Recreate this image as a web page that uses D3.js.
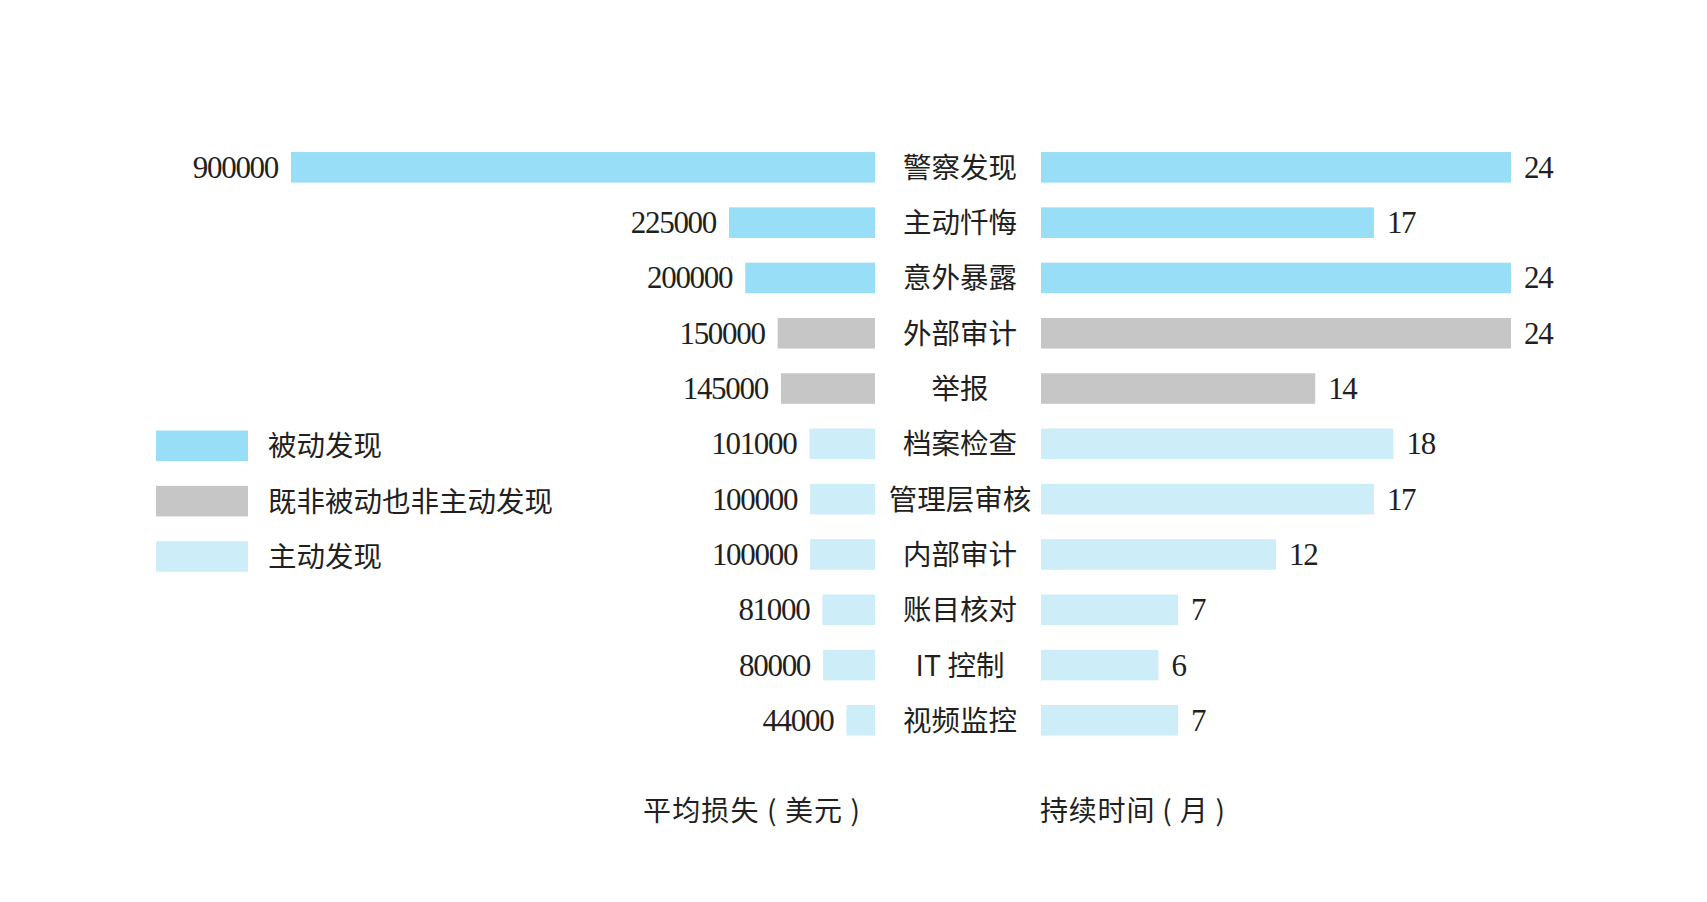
<!DOCTYPE html>
<html><head><meta charset="utf-8">
<script src="https://cdn.jsdelivr.net/npm/d3@7"></script>
<style>html,body{margin:0;padding:0;background:#fff;}</style>
</head><body>
<svg id="chart" width="1707" height="902"></svg>
<script>
const categories = ["警察发现","主动忏悔","意外暴露","外部审计","举报","档案检查","管理层审核","内部审计","账目核对","IT 控制","视频监控"];
const lossValues = [900000,225000,200000,150000,145000,101000,100000,100000,81000,80000,44000];
const durationValues = [24,17,24,24,14,18,17,12,7,6,7];
const groups = ["passive","passive","passive","neither","neither","active","active","active","active","active","active"];
const legendKeys = ["passive","neither","active"];
const legendLabels = ["被动发现","既非被动也非主动发现","主动发现"];
const lossTitle = "平均损失 ( 美元 )";
const durationTitle = "持续时间 ( 月 )";

const colors = {passive:"#99DEF7", neither:"#C6C6C6", active:"#CDEEF9"};
const cjk = "'Noto Sans CJK SC', 'Noto Sans', sans-serif";
const serif = "'Liberation Serif', 'DejaVu Serif', serif";
const textColor = "#231F20";

const svg = d3.select("#chart");
const data = categories.map((c,i)=>({cat:c, loss:lossValues[i], dur:durationValues[i], g:groups[i]}));

const y = d3.scaleBand().domain(categories).range([141, 746.7]).paddingInner(0.447).paddingOuter(0.2);
const xL = d3.scaleLinear().domain([0, 900000]).range([875, 291]);
const xR = d3.scaleLinear().domain([0, 24]).range([1041, 1511]);
const bh = y.bandwidth();

// left bars
svg.append("g").selectAll("rect").data(data).join("rect")
  .attr("x", d=>xL(d.loss)).attr("width", d=>xL(0)-xL(d.loss))
  .attr("y", d=>y(d.cat)).attr("height", bh)
  .attr("fill", d=>colors[d.g]);

// right bars
svg.append("g").selectAll("rect").data(data).join("rect")
  .attr("x", xR(0)).attr("width", d=>xR(d.dur)-xR(0))
  .attr("y", d=>y(d.cat)).attr("height", bh)
  .attr("fill", d=>colors[d.g]);

// left value labels
svg.append("g").selectAll("text").data(data).join("text")
  .attr("x", d=>xL(d.loss)-13).attr("y", d=>y(d.cat)+bh/2+10.5)
  .attr("text-anchor","end").attr("font-family",serif).attr("font-size",31)
  .attr("letter-spacing","-1.3").attr("fill",textColor)
  .text(d=>d.loss);

// right value labels
svg.append("g").selectAll("text").data(data).join("text")
  .attr("x", d=>xR(d.dur)+13).attr("y", d=>y(d.cat)+bh/2+10.5)
  .attr("text-anchor","start").attr("font-family",serif).attr("font-size",31)
  .attr("letter-spacing","-1.3").attr("fill",textColor)
  .text(d=>d.dur);

// category labels
svg.append("g").selectAll("text").data(data).join("text")
  .attr("x", 960).attr("y", d=>y(d.cat)+bh/2+10.5)
  .attr("text-anchor","middle").attr("font-family",cjk).attr("font-size",28.5)
  .attr("fill",textColor)
  .text(d=>d.cat);

// legend
const lg = svg.append("g");
legendKeys.forEach((k,i)=>{
  const cy = y(categories[5+i]) + 2;
  lg.append("rect").attr("x",156).attr("y",cy).attr("width",92).attr("height",bh).attr("fill",colors[k]);
  lg.append("text").attr("x",268).attr("y",cy+bh/2+10.5)
    .attr("font-family",cjk).attr("font-size",28.5).attr("fill",textColor).text(legendLabels[i]);
});

// axis titles
svg.append("text").attr("x", xL(0)-232).attr("y", 821).attr("text-anchor","start")
  .attr("font-family",cjk).attr("font-size",28).attr("fill",textColor)
  .attr("textLength",217).attr("lengthAdjust","spacing").text(lossTitle);
svg.append("text").attr("x", xR(0)-1).attr("y", 821).attr("text-anchor","start")
  .attr("font-family",cjk).attr("font-size",28).attr("fill",textColor)
  .attr("textLength",185).attr("lengthAdjust","spacing").text(durationTitle);
</script>
</body></html>
